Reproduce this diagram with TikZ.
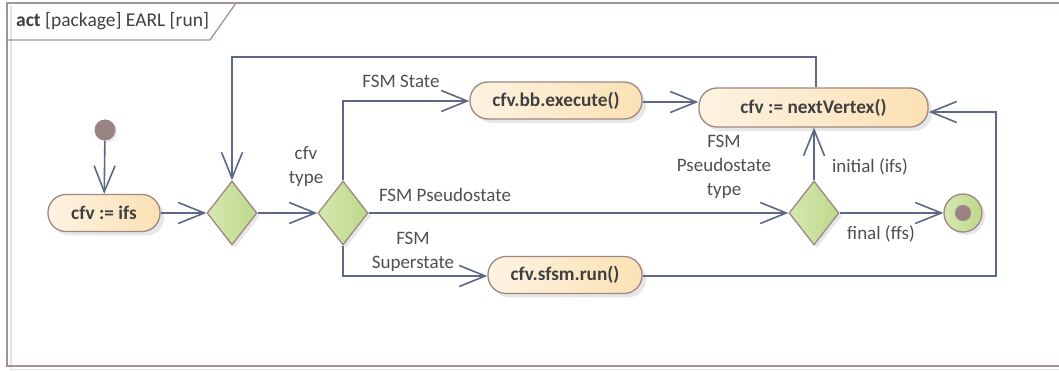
\documentclass[tikz,border=0pt]{standalone}
\usepackage{fontspec}
\setmainfont{Carlito}
\usetikzlibrary{arrows.meta,shapes.geometric,shadows}
\definecolor{lineC}{HTML}{5E6886}
\definecolor{boxL}{HTML}{FDF3E2}
\definecolor{boxR}{HTML}{FBE1B4}
\definecolor{boxD}{HTML}{A08780}
\definecolor{grnL}{HTML}{D6E8B2}
\definecolor{grnR}{HTML}{BCD98A}
\definecolor{dot}{HTML}{9B8383}
\definecolor{frameC}{HTML}{A39494}
\definecolor{txt}{HTML}{404040}
\definecolor{ltxt}{HTML}{505050}
\tikzset{
  actbox/.style={rectangle, rounded corners=18pt, left color=boxL, right color=boxR,
    draw=boxD, line width=1.3pt, minimum height=37pt, inner sep=0pt,
    font=\fontsize{19.3}{22}\selectfont\bfseries, text=txt,
    drop shadow={shadow xshift=4pt, shadow yshift=-4pt, fill=black!18}},
  decide/.style={diamond, left color=grnL, right color=grnR, draw=boxD, line width=1.3pt,
    minimum width=50pt, minimum height=64pt, inner sep=0pt,
    drop shadow={shadow xshift=3pt, shadow yshift=-3pt, fill=black!18}},
  flow/.style={draw=lineC, line width=1.6pt, -{Straight Barb[length=26pt,width=21pt,line width=1.6pt]}},
  lbl/.style={font=\fontsize{19}{24}\selectfont, text=ltxt, align=center, inner sep=0pt}
}
\begin{document}
\begin{tikzpicture}[x=1pt,y=-1pt]
\fill[white] (0,0) rectangle (1059,371);
\useasboundingbox (0,0) rectangle (1059,371);
% frame
\fill[black!10] (10,6) -- (10,370) -- (1059,370) -- (1059,369) -- (12,369) -- (12,6) -- cycle;
\draw[frameC, line width=2pt] (1059,3) -- (7,3) -- (7,366) -- (1059,366);
\draw[frameC, line width=1.3pt] (7,40) -- (210,40) -- (236,3);
\node[lbl, anchor=west, text=txt, font=\fontsize{19.5}{22}\selectfont] (title) at (16,21) {\textbf{act} [package] EARL [run]};

% nodes
\node[circle, fill=dot, minimum size=21pt, inner sep=0pt,
  drop shadow={shadow xshift=2pt, shadow yshift=-2pt, fill=black!15}] (init) at (105,130) {};
\node[actbox, minimum width=112pt] (ifs) at (104,213) {cfv := ifs};
\node[decide] (d1) at (232,213) {};
\node[decide] (d2) at (343,213) {};
\node[decide] (d3) at (814,213) {};
\node[actbox, minimum width=172pt] (exec) at (556,100.5) {cfv.bb.execute()};
\node[actbox, minimum width=229pt, minimum height=39pt] (next) at (813.5,107.5) {cfv := nextVertex()};
\node[actbox, minimum width=154pt] (run) at (565,275) {cfv.sfsm.run()};
\node[circle, left color=grnL, right color=grnR, draw=boxD, line width=1.3pt,
  minimum size=38pt, inner sep=0pt,
  drop shadow={shadow xshift=3pt, shadow yshift=-3pt, fill=black!18}] (fin) at (963,213) {};
\node[circle, fill=dot, minimum size=16pt, inner sep=0pt] (finin) at (fin.center) {};

% corner coordinates
\coordinate (c1) at (343,101);
\coordinate (c2) at (816,57);
\coordinate (c3) at (232,57);
\coordinate (c4) at (343,276);
\coordinate (c5) at (996,276);
\coordinate (c6) at (996,112);

% connectors
\draw[flow] (init) -- (ifs);
\draw[flow] (ifs) -- (d1);
\draw[flow] (d1) -- (d2);
\draw[flow] (d2.north) -- (c1) -- (exec.west |- c1);
\draw[flow] (exec.east |- 0,102) -- (next.west |- 0,102);
\draw[flow] (next.north -| c2) -- (c2) -- (c3) -- (d1.north);
\draw[flow] (d2.east) -- (d3.west);
\draw[flow] (d2.south) -- (c4) -- (run.west |- c4);
\draw[flow] (run.east |- c5) -- (c5) -- (c6) -- (next.east |- c6);
\draw[flow] (d3.north) -- (next.south -| d3.north);
\draw[flow] (d3.east) -- (fin.west);

% labels
\node[lbl] (lt) at (306,167) {cfv\\type};
\node[lbl] (lfs) at (401,81) {FSM State};
\node[lbl] (lps) at (445,195) {FSM Pseudostate};
\node[lbl] (lss) at (413,252) {FSM\\Superstate};
\node[lbl] (lpt) at (724,167) {FSM\\Pseudostate\\type};
\node[lbl] (lin) at (870,167) {initial (ifs)};
\node[lbl] (lfi) at (881,234) {final (ffs)};
\end{tikzpicture}
\end{document}
